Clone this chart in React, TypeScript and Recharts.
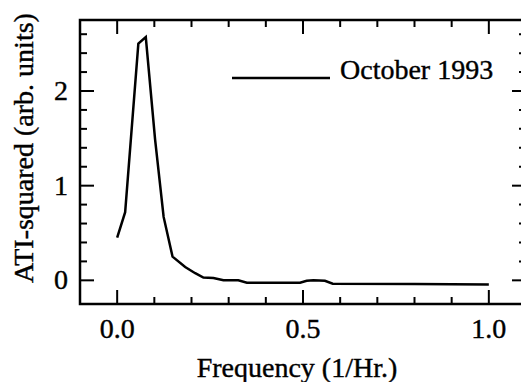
import React from 'react';
import { LineChart, Line, XAxis, YAxis, Legend, ReferenceArea, ReferenceLine } from 'recharts';

const FREQ = [0, 0.0215, 0.057, 0.077, 0.102, 0.125, 0.149, 0.183, 0.21, 0.232, 0.259, 0.286, 0.326, 0.349, 0.492, 0.51, 0.528, 0.559, 0.58, 0.8, 1.0];
const ATI = [0.45, 0.72, 2.5, 2.57, 1.49, 0.67, 0.25, 0.14, 0.075, 0.03, 0.025, 0.0, 0.0, -0.025, -0.025, -0.005, 0.0, -0.005, -0.035, -0.04, -0.045];

const X_TICKS = [0, 0.1, 0.2, 0.3, 0.4, 0.5, 0.6, 0.7, 0.8, 0.9, 1.0];
const Y_TICKS = [0, 0.2, 0.4, 0.6, 0.8, 1, 1.2, 1.4, 1.6, 1.8, 2, 2.2, 2.4, 2.6];
const X_MAJOR = [0, 0.5, 1.0];
const Y_MAJOR = [0, 1, 2];
const X_DOMAIN = [-0.1, 1.1];
const Y_DOMAIN = [-0.25, 2.75];

const SERIES_NAME = 'October 1993';
const X_TITLE = 'Frequency (1/Hr.)';
const Y_TITLE = 'ATI-squared (arb. units)';

const data = FREQ.map((f, i) => ({ freq: f, ati: ATI[i] }));

const FONT = "'Liberation Serif', 'Times New Roman', Times, serif";
const textStyle = { fontFamily: FONT, fontSize: 28, fill: '#000', stroke: '#000', strokeWidth: 0.4 };
const isMajor = (v: number, majors: number[]) => majors.some(m => Math.abs(m - v) < 1e-6);

// tick marks point inward, on both sides of the frame
const xTickShape = (major: boolean) => (p: any) => {
  const len = major ? 14 : 7;
  const top = Math.min(p.y1, p.y2);
  const bottom = Math.max(p.y1, p.y2);
  return (
    <g>
      <path d={`M${p.x1},${bottom}V${bottom - len}`} stroke="#000" strokeWidth={2} fill="none" />
      <path d={`M${p.x1},${top}V${top + len}`} stroke="#000" strokeWidth={2} fill="none" />
    </g>
  );
};

const yTickShape = (major: boolean) => (p: any) => {
  const len = major ? 14 : 7;
  const left = Math.min(p.x1, p.x2);
  const right = Math.max(p.x1, p.x2);
  return (
    <g>
      <path d={`M${left},${p.y1}H${left + len}`} stroke="#000" strokeWidth={2} fill="none" />
      <path d={`M${right},${p.y1}H${right - len}`} stroke="#000" strokeWidth={2} fill="none" />
    </g>
  );
};

const BottomLabel = ({ x, y, payload }: any) =>
  isMajor(payload.value, X_MAJOR) ? (
    <text x={x} y={y + 34} textAnchor="middle" style={textStyle}>
      {payload.value.toFixed(1)}
    </text>
  ) : <g />;

const LeftLabel = ({ x, y, payload }: any) =>
  isMajor(payload.value, Y_MAJOR) ? (
    <text x={x - 12} y={y + 9} textAnchor="end" style={textStyle}>
      {payload.value}
    </text>
  ) : <g />;

const xTitle = ({ viewBox }: any) => (
  <text x={viewBox.x + 217} y={viewBox.y + 73} textAnchor="middle" style={textStyle}>
    {X_TITLE}
  </text>
);

const yTitle = ({ viewBox }: any) => {
  const cx = viewBox.x + 33;
  const cy = viewBox.y + 128;
  return (
    <text x={cx} y={cy} transform={`rotate(-90, ${cx}, ${cy})`} textAnchor="middle" style={textStyle}>
      {Y_TITLE}
    </text>
  );
};

const renderLegend = (props: any) => {
  const item = props.payload && props.payload[0];
  return (
    <svg width={270} height={34} style={{ display: 'block' }}>
      <path d="M0,23H98" stroke="#000" strokeWidth={2.5} />
      <text x={108} y={24} style={textStyle}>
        {item ? item.value : SERIES_NAME}
      </text>
    </svg>
  );
};

export default function App() {
  return (
    <div style={{ position: 'absolute', left: 0, top: 0, width: 521, height: 382, overflow: 'hidden', background: '#fff', fontFamily: FONT }}>
      <LineChart width={540} height={382} data={data} margin={{ top: 20, right: 14, bottom: 0, left: 0 }}>
        <XAxis
          xAxisId="bottom"
          dataKey="freq"
          type="number"
          domain={X_DOMAIN}
          ticks={X_TICKS}
          interval={0}
          allowDataOverflow
          height={78}
          tickSize={0}
          tickMargin={0}
          tickLine={false}
          axisLine={false}
          tick={<BottomLabel />}
          label={xTitle}
        />
        <YAxis
          yAxisId="left"
          type="number"
          domain={Y_DOMAIN}
          ticks={Y_TICKS}
          interval={0}
          allowDataOverflow
          width={80}
          tickSize={0}
          tickMargin={0}
          tickLine={false}
          axisLine={false}
          tick={<LeftLabel />}
          label={yTitle}
        />
        <YAxis yAxisId="right" orientation="right" type="number" domain={Y_DOMAIN} width={0} hide />
        <ReferenceArea
          xAxisId="bottom"
          yAxisId="left"
          x1={X_DOMAIN[0]}
          x2={X_DOMAIN[1]}
          y1={Y_DOMAIN[0]}
          y2={Y_DOMAIN[1]}
          fill="none"
          fillOpacity={0}
          stroke="#000"
          strokeWidth={2.5}
          ifOverflow="visible"
        />
        {X_TICKS.map(v => (
          <ReferenceLine key={`xt-${v}`} xAxisId="bottom" yAxisId="left" x={v} shape={xTickShape(isMajor(v, X_MAJOR))} ifOverflow="visible" />
        ))}
        {Y_TICKS.map(v => (
          <ReferenceLine key={`yt-${v}`} xAxisId="bottom" yAxisId="left" y={v} shape={yTickShape(isMajor(v, Y_MAJOR))} ifOverflow="visible" />
        ))}
        <Legend
          layout="horizontal"
          verticalAlign="middle"
          align="center"
          wrapperStyle={{ left: 232, top: 55, width: 'auto' }}
          content={renderLegend}
        />
        <Line
          xAxisId="bottom"
          yAxisId="left"
          name={SERIES_NAME}
          dataKey="ati"
          type="linear"
          stroke="#000"
          strokeWidth={2.5}
          dot={false}
          isAnimationActive={false}
        />
      </LineChart>
    </div>
  );
}
